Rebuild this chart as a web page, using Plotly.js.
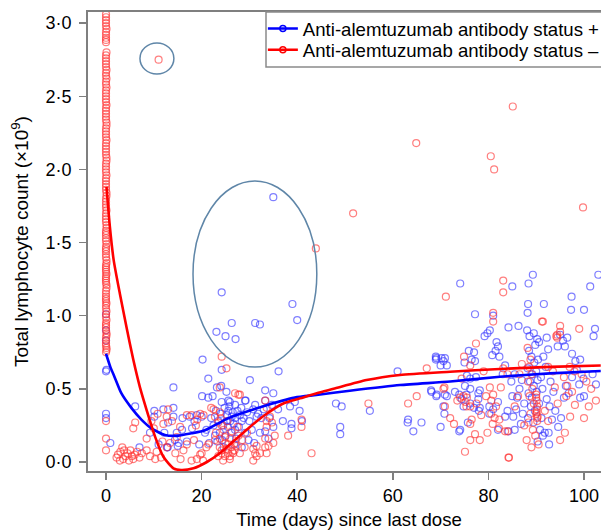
<!DOCTYPE html>
<html><head><meta charset="utf-8">
<script src="https://cdn.plot.ly/plotly-3.0.1.min.js"></script>
<style>html,body{margin:0;padding:0;overflow:hidden;background:#fff}#chart{width:612px;height:530px}</style>
</head><body><div id="chart"></div>
<script>
const seriesNames = ['Anti-alemtuzumab antibody status +', 'Anti-alemtuzumab antibody status \u2013'];

// [days since last dose, total lymphocyte count x10^9]
const positivePoints = [
[0,0.62],[0.1,0.63],[0,0.83],[0,0.9],[0,1.01],[0,0.33],[0,0.3],[0.9,0.13],
[6.1,0.38],[10.1,0.35],[10.1,0.31],[12,0.36],[14.1,0.51],[14.1,0.37],[14.1,0.31],[12.2,0.2],[14.8,0.2],[15.9,0.22],[16.9,0.14],[18,0.23],[19,0.32],[11,0.12],[13,0.27],[16,0.3],[17.5,0.31],[18.5,0.28],[12.8,0.1],[15.2,0.13],[9.2,0.2],[7,0.1],[14.4,0.15],[15,0.11],[12.9,0.1],
[20.2,0.7],[21.4,0.57],[20.1,0.45],[21.4,0.44],[22.3,0.45],[23.2,0.51],[24.1,0.52],[24.2,0.63],[25.2,0.48],[25.9,0.41],[29.2,0.42],[30.1,0.56],[31.5,0.31],[33.3,0.49],[35,0.47],[36.1,0.62],
[24.2,0.41],[25.6,0.42],[27,0.39],[29.1,0.42],[31.2,0.39],[33.3,0.42],[34.7,0.39],[38.8,0.23],[38.8,0.26],[20,0.31],[20.7,0.2],[25.6,0.35],[26.3,0.31],[25.2,0.28],[27,0.22],[28.4,0.28],[29.1,0.2],[30.5,0.22],[32.2,0.2],[33.3,0.21],[34,0.16],[28.4,0.1],[24.6,0.1],[19.5,0.12],[21.6,0.13],
[22,0.3],[22.5,0.25],[23,0.35],[23.5,0.28],[23.8,0.2],[24,0.33],[24.5,0.25],[24.8,0.37],[25,0.18],[25.3,0.32],[25.5,0.24],[25.8,0.38],[26,0.28],[26.2,0.2],[26.5,0.34],[26.7,0.26],[27,0.3],[27.2,0.16],[27.5,0.35],[27.8,0.24],[28,0.32],[28.3,0.37],[28.8,0.3],[29.5,0.34],[30,0.28],[30.8,0.36],[31.8,0.33],[32.5,0.3],[33,0.36],[34.2,0.3],[35,0.24],[36,0.36],[37,0.28],[21,0.22],[22.8,0.18],[23.3,0.14],[24.3,0.15],[26.8,0.12],[29.8,0.15],[31,0.13],
[24.2,1.16],[23.1,0.89],[25,0.86],[26.3,0.95],[27.1,0.84],[31.2,0.95],[32.2,0.94],[39,1.08],[40,0.97],[35,1.81],
[38.5,0.38],[39.5,0.41],[40.5,0.35],[41,0.28],[48.1,0.4],[49.3,0.38],[49,0.24],[49,0.19],[55.2,0.35],[61,0.62],[63.2,0.29],[64.3,0.21],[66,0.27],[68,0.49],[69,0.72],[69,0.7],[69.2,0.46],[70,0.24],[71.3,0.45],
[69.1,0.71],[70.2,0.71],[70.9,0.71],[70.6,0.69],[70,0.66],[71.3,0.66],[75.9,0.76],[77,0.75],[76.5,0.7],[77.2,0.69],[75.5,0.59],[76.2,0.57],[75.1,0.52],[76.2,0.5],[68.1,0.48],[69.1,0.45],[70.9,0.46],[73,0.48],[73.9,0.46],[74.4,0.43],[75.4,0.46],[70.6,0.38],[70.8,0.33],[74.8,0.38],[76.2,0.4],[77,0.37],[77.9,0.47],[77.9,0.43],[78.2,0.37],[63.1,0.27],[73.9,0.21],[74.1,1.22],[77.2,1.01],[75,0.68],[78.2,0.49],[78,0.35],[74.1,0.22],[75.7,0.27],[77.4,0.58],
[80.3,0.9],[79.8,0.88],[79.2,0.86],[81.7,0.82],[82,0.79],[81.5,0.76],[80.8,0.73],[82.3,0.72],[81,1.0],[80.2,0.38],[80.2,0.33],[81,0.36],[82,0.41],[82,0.22],[83.5,0.31],[84,0.35],[85.2,0.31],[85.5,0.22],[84.2,0.21],[83,0.6],[83.5,0.66],[84.2,0.92],[86.3,0.93],[85,1.2],[88.4,1.22],[89.3,1.28],[88.3,1.08],[88.2,1.02],[88.1,0.9],[88.6,0.86],[89.5,0.88],[90.2,0.84],[89.8,0.8],[90.6,0.82],[88.5,0.76],[89,0.72],[89.6,0.68],[90.4,0.7],[88.2,0.64],[89.2,0.6],[90,0.62],[88.7,0.55],[89.5,0.52],[90.3,0.56],[88.4,0.47],[89.1,0.44],[90.1,0.48],[88.9,0.38],[89.7,0.35],[90.6,0.4],[88.3,0.3],[89.4,0.27],[90.8,0.22],[91.4,0.18],[91.8,0.2],[92.6,0.2],[86.5,0.5],[87,0.56],[86,0.44],[85.5,0.6],[84.8,0.55],[87.5,0.4],[87.2,0.33],[86.8,0.26],[85.8,0.36],[85,0.45],
[91.6,1.08],[97.4,1.13],[97.3,1.04],[100,1.04],[103,1.28],[101.3,1.2],[102.3,0.91],[102,0.86],[92.2,0.85],[92.5,0.77],[91.5,0.72],[92,0.65],[95,0.87],[95.6,0.83],[96.5,0.85],[96,0.79],[94.5,0.79],[97.5,0.74],[98.2,0.69],[99.2,0.7],[98.5,0.63],[99.9,0.57],[99,0.53],[97.5,0.58],[96.2,0.52],[96.8,0.47],[95.8,0.44],[99.2,0.44],[100,0.45],[93,0.55],[93.6,0.48],[92.2,0.43],[92.8,0.38],[94,0.35],[95.2,0.3],[93.3,0.29],[94.6,0.24],[102.5,0.53],[101.8,0.6],[91,0.58],[91.3,0.5],[91.1,0.3],[90.3,0.14],[92.7,0.12]
];

const negativePoints = [
[0,0.08],[0,0.16],[0,0.28],[0,0.75],[0.1,0.78],[0,0.81],[0,0.85],[0.1,0.88],[0,0.92],[0,0.95],[0,0.99],[0.1,1.03],[0,1.07],[0,1.1],[0,1.13],[0,1.17],[0.1,1.21],[0,1.24],[0,1.27],[0,1.3],[0,1.33],[0.1,1.36],[0,1.4],[0,1.44],[0,1.47],[0,1.51],[0,1.55],[0,1.58],[0.1,1.62],[0,1.66],[0,1.7],[0,1.74],[0,1.78],[0.1,1.82],[0,1.86],[0,1.9],[0,1.94],[0,1.98],[0,2.02],[0.1,2.06],[0,2.1],[0,2.14],[0,2.18],[0,2.22],[0,2.26],[0.1,2.3],[0,2.34],[0,2.38],[0,2.42],[0,2.46],[0,2.5],[0,2.54],[0,2.58],[0.1,2.62],[0,2.66],[0,2.7],[0,2.74],[0,2.78],[0,2.87],[0,2.9],[0,2.94],[0,2.98],[0,3.02],[0,3.06],
[0.1,0.765],[0,0.795],[0,0.83],[0.1,0.865],[0,0.9],[0,0.935],[0.1,0.97],[0,1.01],[0,1.05],[0.1,1.085],[0,1.115],[0,1.15],[0.1,1.19],[0,1.225],[0,1.255],[0.1,1.285],[0,1.315],[0,1.345],[0.1,1.38],[0,1.42],[0,1.455],[0.1,1.49],[0,1.53],[0,1.565],[0.1,1.6],[0,1.64],[0,1.68],[0.1,1.72],[0,1.76],[0,1.8],[0.1,1.84],[0,1.88],[0,1.92],[0.1,1.96],[0,2.0],[0,2.04],[0.1,2.08],[0,2.12],[0,2.16],[0.1,2.2],[0,2.24],[0,2.28],[0.1,2.32],[0,2.36],[0,2.4],[0.1,2.44],[0,2.48],[0,2.52],[0.1,2.56],[0,2.6],[0,2.64],[0.1,2.68],[0,2.72],[0,2.76],[0.1,2.8],[0,2.885],[0,2.92],[0.1,2.96],[0,3.0],[0,3.04],
[2.5,0.05],[3.4,0.1],[4.1,0.04],[5.1,0.08],[5.7,0.02],[6,0.05],[2.9,0.01],[4.8,0.01],[8.5,0.08],[3,0.07],[3.8,0.08],[4.5,0.06],[5.4,0.04],[6.5,0.07],[7,0.03],[2.2,0.03],[3.6,0.02],[7.5,0.06],
[5.7,0.23],[6.1,0.27],[8.5,0.16],[10,0.23],[10.3,0.02],[10.6,0.07],[12,0.26],[12.7,0.31],[12.7,0.1],[13.4,0.13],[14.5,0.06],[15.5,0.24],[16.9,0.32],[17.9,0.32],[16.9,0.12],[17.9,0.01],[19,0.02],[19.7,0.05],[20.3,0.01],[21,0.1],[19.7,0.33],[20.4,0.32],[22.5,0.36],[22.8,0.31],[24.2,0.72],[25.2,0.64],[23.8,0.51],[27,0.47],[27.7,0.46],[23.8,0.34],[24.2,0.25],[23.8,0.16],[24.2,0.08],[24.9,0.04],[25.9,0.02],[26.6,0.06],[27.3,0.11],[30.8,0.01],[31.5,0.04],[32.2,0.06],[33.3,0.1],[33.6,0.24],[33.6,0.28],[34.3,0.31],[35,0.13],[33.3,0.42],
[11,2.75],
[9.2,0.04],[11.5,0.03],[11.8,0.14],[13.8,0.28],[14.8,0.17],[15.6,0.02],[16.2,0.08],[18.4,0.15],[18.8,0.25],[9.5,0.28],[13,0.36],[10.8,0.33],
[22,0.37],[28,0.46],[33.6,0.37],[34.7,0.27],[40.9,0.29],[40.9,0.24],[38.1,0.18],[43,0.06],[19.1,0.29],[20,0.06],[21.4,0.12],[22.8,0.15],[23.8,0.1],[24.2,0.06],[25.2,0.09],[25.9,0.04],[26.9,0.08],[24.9,0.17],[26.3,0.21],[27.7,0.18],[30.8,0.09],[31.5,0.11],[33.3,0.16],[34,0.11],[33.6,0.06],[35.3,0.18],[31.2,0.06],
[23,0.2],[23.5,0.27],[24,0.3],[24.6,0.22],[25,0.13],[25.4,0.28],[25.6,0.12],[26,0.16],[26.4,0.07],[27,0.13],[27.5,0.24],[28,0.06],[28.5,0.15],[29,0.1],[29.5,0.2],[23.5,0.04],[24.5,0.01],[25.5,0.06],[26.2,0.1],
[43.9,1.46],[51.7,1.7],[64.9,2.18],[80.5,2.09],[81.2,2.0],[85.1,2.43],[99.8,1.74],
[54.9,0.4],[63.2,0.4],[65,0.45],[67.1,0.64],[70.8,0.51],[71.1,1.13],[74.9,0.72],
[83.1,1.24],[83.1,1.16],[81,1.02],[81,0.96],[77.4,0.81],[76.2,0.66],[74.4,0.57],[70.6,0.5],[74.1,0.44],[75.5,0.44],[75.2,0.41],[76.2,0.38],[70.9,0.38],[76.5,0.29],[76.2,0.26],[77.2,0.19],[76.2,0.15],[78.2,0.15],[75.1,0.07],[80.3,0.51],[81,0.46],[80.6,0.42],[80.6,0.33],[81.3,0.3],[82.3,0.29],[80.9,0.26],[82.2,0.23],[83.5,0.21],[84.2,0.03],[81.6,0.38],[82.6,0.51],[83.1,0.64],[84,0.6],[79,0.62],[77.5,0.4],[79.5,0.45],[78.5,0.32],[79.8,0.2],[74.8,0.45],[75.4,0.38],[73.5,0.42],[72,0.3],[72.8,0.26],
[91.2,0.96],[95,0.93],[94.4,0.87],[94.4,0.85],[99,0.91],[91.4,0.96],[95,0.89],[94.2,0.86],[88.2,0.78],[88.8,0.7],[88.5,0.65],[89,0.6],[88.3,0.55],[89.2,0.5],[88.6,0.45],[89.5,0.4],[90.1,0.42],[90.2,0.38],[90.1,0.34],[90.3,0.31],[90.2,0.28],[88.8,0.33],[88.4,0.27],[89.3,0.22],[88,0.15],[89,0.1],[90.5,0.12],[89.8,0.18],[84,0.21],[84.3,0.03],[86.5,0.6],[87,0.67],[86.2,0.45],[85.5,0.38],[87.5,0.25],[93.9,0.51],[95.8,0.58],[96.3,0.45],[98.1,0.39],[97.1,0.31],[96,0.2],[95,0.15],[92.5,0.65],[93.5,0.62],[97,0.65],[98,0.62],[99.5,0.6],[100.5,0.55],[101.5,0.5],[102.5,0.42],[96.5,0.52],[97.5,0.48],[94.5,0.4],[100,0.3],[101,0.38],[91.8,0.35],[92.5,0.28],
[90,0.46],[90,0.44],[90.1,0.36],[90,0.33],[90.2,0.3]
];

const positiveFitDays = [0,0.9,1.8,3.2,5.3,7.4,9.5,12.3,15.1,17.9,20.6,25.6,32.6,39.5,44,51,61.5,72,82.4,92.9,103.5];
const positiveFit     = [0.74,0.65,0.58,0.47,0.37,0.29,0.23,0.185,0.18,0.196,0.215,0.30,0.378,0.44,0.458,0.487,0.526,0.55,0.583,0.606,0.622];
const negativeFitDays = [0.1,0.8,1.6,2.9,4.3,5.7,7.1,8.5,10.3,12,14.1,15.7,18.3,21.1,23.8,26.6,30.1,33.6,37.1,40.6,44.1,47.6,54.5,61.5,72,82.4,92.9,103.5];
const negativeFit     = [1.88,1.61,1.38,1.15,0.92,0.70,0.51,0.355,0.17,0.036,-0.043,-0.055,-0.043,0.0,0.06,0.14,0.24,0.33,0.40,0.435,0.47,0.50,0.56,0.595,0.617,0.636,0.65,0.66];

const xTickValues = [0,20,40,60,80,100];
const yTickValues = [0,0.5,1,1.5,2,2.5,3];
const yTickLabels = ['0\u00b70','0\u00b75','1\u00b70','1\u00b75','2\u00b70','2\u00b75','3\u00b70'];

// hand-drawn highlight ellipses (data units)
const highlightEllipses = [
  {x0:7.1, x1:14.2, y0:2.652, y1:2.864},
  {x0:18.2, x1:44.1, y0:0.649, y1:1.921}
];

const blue = '#0000ff', red = '#ff0000';
const font = 'Liberation Sans, Arial, Helvetica, sans-serif';

const traces = [
  {x: positivePoints.map(p=>p[0]), y: positivePoints.map(p=>p[1]), type:'scatter', mode:'markers', showlegend:false,
   marker:{symbol:'circle-open', size:7, color:'#3030ff', opacity:0.62, line:{width:1.2}}, hoverinfo:'skip'},
  {x: negativePoints.map(p=>p[0]), y: negativePoints.map(p=>p[1]), type:'scatter', mode:'markers', showlegend:false,
   marker:{symbol:'circle-open', size:7, color:'#ff3030', opacity:0.62, line:{width:1.2}}, hoverinfo:'skip'},
  {x: positiveFitDays, y: positiveFit, type:'scatter', mode:'lines', showlegend:false,
   line:{color:blue, width:2.6, shape:'spline', smoothing:0.6}},
  {x: negativeFitDays, y: negativeFit, type:'scatter', mode:'lines', showlegend:false,
   line:{color:red, width:2.6, shape:'spline', smoothing:0.6}},
  {x:[null], y:[null], type:'scatter', mode:'lines+markers', name:seriesNames[0], legend:'legend',
   line:{color:blue, width:2.5}, marker:{symbol:'circle-open', size:6, color:blue, line:{width:1.5}}},
  {x:[null], y:[null], type:'scatter', mode:'lines+markers', name:seriesNames[1], legend:'legend2',
   line:{color:red, width:2.5}, marker:{symbol:'circle-open', size:6, color:red, line:{width:1.5}}}
];

const axisCommon = {showgrid:false, zeroline:false, showline:true, linecolor:'#7f7f7f', linewidth:2, mirror:true,
  ticks:'outside', ticklen:7, tickwidth:1.5, tickcolor:'#7f7f7f', tickfont:{family:font, size:18, color:'#000'}};

const legendStyle = {xanchor:'left', yanchor:'middle', bgcolor:'rgba(0,0,0,0)', borderwidth:0,
  font:{family:font, size:18.6, color:'#000'}};

const layout = {
  width:612, height:530,
  margin:{l:88, r:2, t:12, b:59, autoexpand:false},
  paper_bgcolor:'#fff', plot_bgcolor:'#fff',
  font:{family:font, color:'#000'},
  xaxis: Object.assign({}, axisCommon, {range:[-3.77,105.44], tickvals:xTickValues, ticktext:xTickValues.map(String),
    title:{text:'Time (days) since last dose', font:{family:font, size:18.6, color:'#000'}, standoff:14}}),
  yaxis: Object.assign({}, axisCommon, {range:[-0.0615,3.076], tickvals:yTickValues, ticktext:yTickLabels, ticklabelstandoff:4,
    title:{text:'Total lymphocyte count (\u00d710<sup>9</sup>)', font:{family:font, size:19, color:'#000'}, standoff:12}}),
  legend: Object.assign({}, legendStyle, {x:0.335, y:0.963}),
  legend2: Object.assign({}, legendStyle, {x:0.335, y:0.917}),
  shapes: [{type:'rect', xref:'paper', yref:'paper', x0:0.341, x1:1.05, y0:0.880, y1:1.0, layer:'above',
            fillcolor:'#fff', line:{color:'#8a8a8a', width:1.5}}].concat(
    highlightEllipses.map(e => ({type:'circle', xref:'x', yref:'y', x0:e.x0, x1:e.x1, y0:e.y0, y1:e.y1,
      line:{color:'#5f86a8', width:1.5}})))
};

Plotly.newPlot('chart', traces, layout, {displayModeBar:false, staticPlot:true});
</script>
</body></html>
